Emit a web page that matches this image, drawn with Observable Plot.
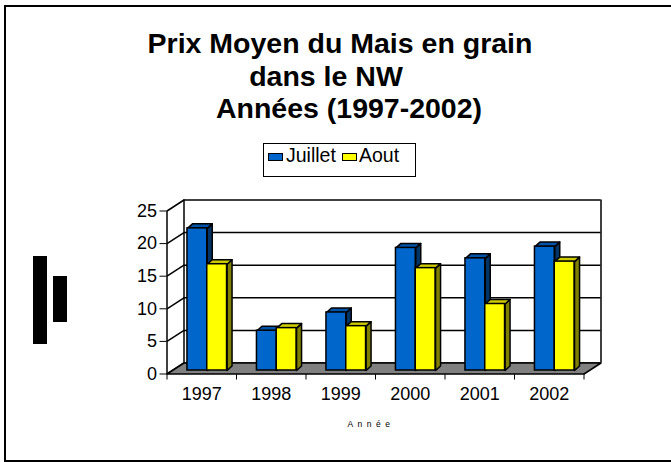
<!DOCTYPE html>
<html>
<head>
<meta charset="utf-8">
<script src="https://cdn.jsdelivr.net/npm/d3@7"></script>
<script src="https://cdn.jsdelivr.net/npm/@observablehq/plot@0.6"></script>
<style>
  html, body { margin: 0; padding: 0; background: #fff; }
  body { width: 671px; height: 462px; position: relative; overflow: hidden;
         font-family: "Liberation Sans", Arial, sans-serif; color: #000; }
  #chart { position: absolute; left: 0; top: 0; }
  #frame { position: absolute; left: 4px; top: 5px; width: 720px; height: 457px;
           border: 2px solid #000; box-sizing: border-box; pointer-events: none; }
  #title { position: absolute; left: 0; top: 27px; width: 680px; text-align: center;
           font-weight: bold; font-size: 28.5px; line-height: 32.5px; white-space: pre; }
  #title div { box-sizing: border-box; }
  #legend { position: absolute; left: 263px; top: 143px; width: 153px; height: 34px;
            border: 1.5px solid #000; box-sizing: border-box; background: #fff; }
  .sw { position: absolute; width: 15px; height: 8px; border: 1px solid #000; box-sizing: border-box; }
  .lt { position: absolute; font-size: 19.5px; line-height: 18px; white-space: nowrap; }
  .blk { position: absolute; background: #000; }
  #xlabel { position: absolute; left: 271px; top: 419px; width: 200px; text-align: center;
            font-size: 8.5px; line-height: 10px; letter-spacing: 4.5px; }
</style>
</head>
<body>
<div id="chart"></div>
<div id="title"></div>
<div id="legend"></div>
<div class="blk" style="left:33px;top:256px;width:14px;height:88px"></div>
<div class="blk" style="left:53px;top:276px;width:14px;height:46px"></div>
<div id="xlabel">Année</div>
<div id="frame"></div>
<script>
// ---- data ----
const years = ["1997", "1998", "1999", "2000", "2001", "2002"];
const juillet = [21.8, 6.1, 8.9, 18.8, 17.2, 19.0];
const aout = [16.3, 6.5, 6.8, 15.7, 10.2, 16.7];
const seriesNames = ["Juillet", "Aout"];
const yTicks = [0, 5, 10, 15, 20, 25];
const titleLines = ["Prix Moyen du Mais en grain", "dans le NW", "Années (1997-2002)"];

// ---- styles ----
const faceColors = [
  {front: "#0066cc", top: "#0053a8", side: "#003366"},
  {front: "#ffff00", top: "#cccc00", side: "#808000"}
];
const titlePad = [[0, 0], [0, 28], [18, 0]]; // [left, right] padding per title line

// ---- layout ----
const W = 671, H = 462;
const mL = 166.5, mR = 87.5, mT = 210.5, mB = 88.5;
const n = years.length;
const yMax = 25;
const kx = (W - mL - mR) / n;   // px per x unit
const ky = (H - mT - mB) / yMax; // px per y unit
const ux = px => px / kx, uy = px => px / ky;

const wallPx = {x: 17, y: 11};
const wall = {x: ux(wallPx.x), y: uy(wallPx.y)};
const front = {x: ux(5.5), y: uy(3.5)};
const depth = {x: ux(5), y: uy(4.5)};
const barW = ux(19.8);

// bars table built from the series
const bars = [];
years.forEach((yr, i) => {
  [juillet[i], aout[i]].forEach((v, j) => {
    const x1 = i + 0.5 - barW + j * barW + front.x;
    bars.push({yr, s: j, x1, x2: x1 + barW, y0: front.y, y1: v + front.y});
  });
});
const topPts = [], sidePts = [];
bars.forEach((b) => {
  const id = b.yr + "-" + b.s;
  [[b.x1, b.y1], [b.x2, b.y1], [b.x2 + depth.x, b.y1 + depth.y], [b.x1 + depth.x, b.y1 + depth.y], [b.x1, b.y1]]
    .forEach(([x, y]) => topPts.push({id, s: b.s, x, y}));
  [[b.x2, b.y0], [b.x2 + depth.x, b.y0 + depth.y], [b.x2 + depth.x, b.y1 + depth.y], [b.x2, b.y1], [b.x2, b.y0]]
    .forEach(([x, y]) => sidePts.push({id, s: b.s, x, y}));
});
const floorPts = [[0, 0], [n, 0], [n + wall.x, wall.y], [wall.x, wall.y], [0, 0]].map(([x, y]) => ({x, y}));

const barMarks = [];
[0, 1].forEach(s => {
  const c = faceColors[s];
  barMarks.push(
    Plot.line(sidePts.filter(p => p.s === s), {x: "x", y: "y", z: "id", fill: c.side, stroke: "#000", strokeWidth: 1.5, strokeLinejoin: "round"}),
    Plot.line(topPts.filter(p => p.s === s), {x: "x", y: "y", z: "id", fill: c.top, stroke: "#000", strokeWidth: 1.5, strokeLinejoin: "round"}),
    Plot.rect(bars.filter(b => b.s === s), {x1: "x1", x2: "x2", y1: "y0", y2: "y1", fill: c.front, stroke: "#000", strokeWidth: 1.5})
  );
});

const chart = Plot.plot({
  width: W, height: H,
  marginLeft: mL, marginRight: mR, marginTop: mT, marginBottom: mB,
  style: {fontFamily: "'Liberation Sans', Arial, sans-serif", fontSize: "18px", background: "transparent", color: "#000", overflow: "visible"},
  x: {domain: [0, n], ticks: d3.range(n + 1), tickFormat: () => "", tickSize: 6, label: null},
  y: {domain: [0, yMax], ticks: yTicks, tickSize: 7, tickPadding: 3, label: null},
  marks: [
    // back wall
    Plot.ruleY(yTicks, {dx: wallPx.x, dy: -wallPx.y, stroke: "#000", strokeWidth: 1.5}),
    Plot.ruleX([0, n], {y1: 0, y2: yMax, dx: wallPx.x, dy: -wallPx.y, stroke: "#000", strokeWidth: 1.5}),
    // side wall
    Plot.link(yTicks, {x1: 0, y1: d => d, x2: wall.x, y2: d => d + wall.y, stroke: "#000", strokeWidth: 1.5}),
    Plot.ruleX([0], {y1: 0, y2: yMax, stroke: "#000", strokeWidth: 1.5}),
    // floor
    Plot.line(floorPts, {x: "x", y: "y", fill: "#808080", stroke: "#000", strokeWidth: 1.5}),
    // bars
    ...barMarks,
    // category labels
    Plot.text(years, {x: (d, i) => i + 0.5, y: 0, text: d => d, dy: 20, fontSize: 18})
  ]
});
document.getElementById("chart").appendChild(chart);

// title
const title = document.getElementById("title");
titleLines.forEach((line, i) => {
  const d = document.createElement("div");
  d.style.paddingLeft = titlePad[i][0] + "px";
  d.style.paddingRight = titlePad[i][1] + "px";
  d.textContent = line;
  title.appendChild(d);
});

// legend
const legend = document.getElementById("legend");
const legendItems = [
  {name: seriesNames[0], sw: [4, 9], tx: 22},
  {name: seriesNames[1], sw: [78, 9], tx: 95}
];
legendItems.forEach((it, s) => {
  const sw = document.createElement("div");
  sw.className = "sw";
  sw.style.left = it.sw[0] + "px"; sw.style.top = it.sw[1] + "px";
  sw.style.background = faceColors[s].front;
  legend.appendChild(sw);
  const t = document.createElement("div");
  t.className = "lt";
  t.style.left = it.tx + "px"; t.style.top = "1.5px";
  t.textContent = it.name;
  legend.appendChild(t);
});
</script>
</body>
</html>
